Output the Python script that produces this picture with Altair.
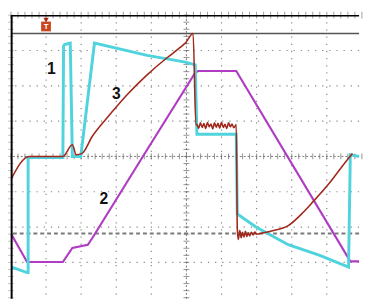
import altair as alt
import pandas as pd
import numpy as np

# Trace 1 (cyan)  time [div], level [div]
c1_t = [0.00, 0.46, 0.49, 0.49, 1.48, 1.50, 1.53, 1.69, 1.75, 1.99, 2.38, 3.88, 4.97, 5.25, 5.30, 6.42, 6.45, 6.97, 7.90, 8.80, 9.62, 9.67, 9.92]
c1_v = [-3.13, -3.29, -3.29, -0.03, -0.03, 3.13, 3.17, 3.21, 0.00, 0.00, 3.21, 2.86, 2.67, 2.59, 0.63, 0.63, -1.63, -1.99, -2.50, -2.80, -3.13, 0.05, 0.00]

# Trace 2 (magenta)
c2_t = [0.00, 0.46, 1.48, 1.75, 2.19, 2.32, 3.83, 5.25, 5.33, 6.42, 9.67, 9.92]
c2_v = [-2.18, -2.99, -2.99, -2.59, -2.50, -2.31, 0.11, 2.37, 2.42, 2.42, -2.97, -2.97]

# Trace 3 (dark red)
c3_t = [0.00, 0.52, 1.48, 1.75, 1.86, 2.02, 2.32, 2.60, 2.87, 3.33, 3.88, 4.43, 4.78, 4.97, 5.19, 5.27,
        5.30, 5.35, 5.40, 5.45, 5.50, 5.55, 5.60, 5.65, 5.70, 5.75, 5.80, 5.85, 5.90, 5.95, 6.00, 6.05,
        6.10, 6.15, 6.20, 6.25, 6.30, 6.35, 6.42,
        6.45, 6.48, 6.52, 6.56, 6.60, 6.64, 6.68, 6.72, 6.76, 6.80, 6.85, 6.90, 6.95, 7.00,
        7.16, 7.43, 7.90, 8.33, 8.61, 9.07, 9.62, 9.73]
c3_v = [-0.65, 0.00, 0.00, 0.33, 0.05, 0.08, 0.57, 0.93, 1.25, 1.77, 2.31, 2.78, 3.05, 3.21, 3.48, 0.90,
        0.90, 0.80, 0.95, 0.82, 0.93, 0.79, 0.96, 0.84, 0.92, 0.78, 0.95, 0.83, 0.94, 0.80, 0.97, 0.82,
        0.91, 0.79, 0.95, 0.84, 0.92, 0.81, 0.90,
        -2.05, -2.35, -2.10, -2.30, -2.15, -2.28, -2.12, -2.27, -2.16, -2.25, -2.15, -2.22, -2.14, -2.20,
        -2.17, -2.11, -1.96, -1.58, -1.28, -0.76, -0.05, 0.08]

# Trace labels
lab_text = ["1", "3", "2"]
lab_t = [1.15, 3.00, 2.65]
lab_v = [2.48, 1.77, -1.22]

grid_t = [1, 2, 3, 4, 6, 7, 8, 9]
grid_v = [3, 2, 1, -1, -2, -3]
cursor_v = 3.48
ref_v = -2.18
minor = np.round(np.arange(0, 10.01, 0.2), 2)

xs = alt.Scale(domain=[0, 9.92], nice=False, zero=False)
ys = alt.Scale(domain=[-4.03, 4], nice=False, zero=False)


def df(t, v):
    return pd.DataFrame({"t": t, "v": v, "i": list(range(len(t)))})


def X(f="t"):
    return alt.X(f + ":Q", scale=xs, axis=None)


def Y(f="v"):
    return alt.Y(f + ":Q", scale=ys, axis=None)


layers = []

# dotted grid
layers.append(alt.Chart(pd.DataFrame({"t": grid_t})).mark_rule(
    color="#8c8c8c", strokeWidth=1.2, strokeDash=[1.3, 6]).encode(x=X()))
layers.append(alt.Chart(pd.DataFrame({"v": grid_v})).mark_rule(
    color="#8c8c8c", strokeWidth=1.2, strokeDash=[1.3, 6]).encode(y=Y()))

# center axes
layers.append(alt.Chart(pd.DataFrame({"t": [5]})).mark_rule(
    color="#777", strokeWidth=1, strokeDash=[2, 2]).encode(x=X()))
layers.append(alt.Chart(pd.DataFrame({"v": [0]})).mark_rule(
    color="#777", strokeWidth=1, strokeDash=[2, 2]).encode(y=Y()))
tk_h = pd.DataFrame({"t": minor, "v": 0.0})
layers.append(alt.Chart(tk_h).mark_tick(orient="vertical", size=6, thickness=1, color="#666").encode(x=X(), y=Y()))
tk_v = pd.DataFrame({"v": np.round(np.arange(-4, 4.01, 0.2), 2), "t": 5.0})
layers.append(alt.Chart(tk_v).mark_tick(orient="horizontal", size=6, thickness=1, color="#666").encode(x=X(), y=Y()))
# edge ticks
tk_top = pd.DataFrame({"t": minor, "v": 4.0})
layers.append(alt.Chart(tk_top).mark_tick(orient="vertical", size=7, thickness=1, color="#777").encode(x=X(), y=Y()))
tk_left = pd.DataFrame({"v": np.round(np.arange(-4, 4.01, 0.2), 2), "t": 0.0})
layers.append(alt.Chart(tk_left).mark_tick(orient="horizontal", size=6, thickness=1, color="#aaa").encode(x=X(), y=Y()))

# cursor line and reference dashed line
layers.append(alt.Chart(pd.DataFrame({"v": [cursor_v]})).mark_rule(
    color="#555", strokeWidth=1.5).encode(y=Y()))
layers.append(alt.Chart(pd.DataFrame({"v": [ref_v]})).mark_rule(
    color="#7a7a7a", strokeWidth=2, strokeDash=[4, 3]).encode(y=Y()))

# traces
layers.append(alt.Chart(df(c2_t, c2_v)).mark_line(color="#b03cc4", strokeWidth=2.2, clip=True).encode(
    x=X(), y=Y(), order="i:Q"))
layers.append(alt.Chart(df(c1_t, c1_v)).mark_line(color="#4fd3dc", strokeWidth=3, clip=True).encode(
    x=X(), y=Y(), order="i:Q"))
layers.append(alt.Chart(df(c3_t, c3_v)).mark_line(color="#a0281c", strokeWidth=1.6, clip=True,
                                                  interpolate="monotone").encode(
    x=X(), y=Y(), order="i:Q"))

# frame (left and top)
layers.append(alt.Chart(pd.DataFrame({"t": [0.02]})).mark_rule(color="#000", strokeWidth=2).encode(x=X()))
layers.append(alt.Chart(pd.DataFrame({"v": [3.985]})).mark_rule(color="#000", strokeWidth=1.5).encode(y=Y()))

# trigger marker
layers.append(alt.Chart(pd.DataFrame({"t": [1.0], "v": [3.68]})).mark_point(
    shape="square", filled=True, size=100, color="#c9461f", opacity=1).encode(x=X(), y=Y()))
layers.append(alt.Chart(pd.DataFrame({"t": [1.0], "v": [3.86]})).mark_point(
    shape="triangle-down", filled=True, size=30, color="#a8260e", opacity=1).encode(x=X(), y=Y()))
layers.append(alt.Chart(pd.DataFrame({"t": [1.0], "v": [3.67], "s": ["T"]})).mark_text(
    color="#ffffff", fontSize=8, fontWeight="bold", font="Liberation Sans").encode(x=X(), y=Y(), text="s:N"))

# labels
layers.append(alt.Chart(pd.DataFrame({"t": lab_t, "v": lab_v, "s": lab_text})).mark_text(
    color="#111", fontSize=16, fontWeight="bold", font="Liberation Sans").encode(x=X(), y=Y(), text="s:N"))

chart = alt.layer(*layers).properties(
    width=363, height=295,
    autosize=alt.AutoSizeParams(type="fit", contains="padding"),
    padding=0,
    background="#ffffff",
).configure_view(stroke=None)

chart.save("out.html", embed_options={"renderer": "svg", "actions": False})
